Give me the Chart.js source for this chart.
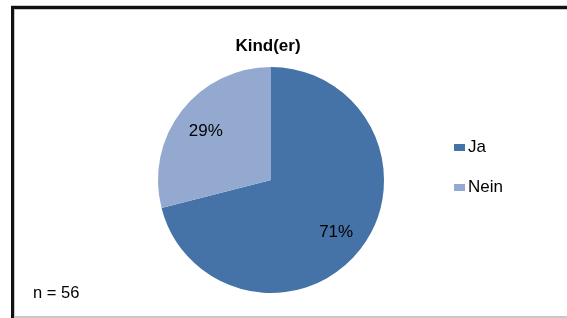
<!DOCTYPE html>
<html>
<head>
<meta charset="utf-8">
<script src="https://cdn.jsdelivr.net/npm/chart.js@4"></script>
<style>
    html, body { margin: 0; padding: 0; background: #ffffff; }
    #wrap { position: relative; width: 567px; height: 318px; }
</style>
</head>
<body>
<div id="wrap"><canvas id="pieChart" width="567" height="318"></canvas></div>
<script>
// Chart data
const categories = ['Ja', 'Nein'];
const shares = [71, 29];
const sliceColors = ['#4573A7', '#94A9CF'];
const chartTitle = 'Kind(er)';
const sampleNote = 'n = 56';

// Frame, title, note and legend drawn onto the canvas
const decorPlugin = {
    id: 'decor',
    beforeDraw(chart) {
        const ctx = chart.ctx;
        ctx.save();
        ctx.fillStyle = '#ffffff';
        ctx.fillRect(0, 0, chart.width, chart.height);
        // outer frame
        ctx.fillStyle = '#c8c8c8';
        ctx.fillRect(11, 5, chart.width - 11, 1);
        ctx.fillRect(14, 9, chart.width - 14, 1);
        ctx.fillRect(14, 9, 1, chart.height - 9);
        ctx.fillRect(11, 316, chart.width - 11, 2);
        ctx.fillStyle = '#111111';
        ctx.fillRect(11, 6, chart.width - 11, 3);
        ctx.fillRect(11, 6, 3, chart.height - 6);
        ctx.restore();
    },
    afterDraw(chart) {
        const ctx = chart.ctx;
        ctx.save();
        ctx.fillStyle = '#000000';
        ctx.textBaseline = 'middle';

        ctx.font = 'bold 17px "Liberation Sans", Arial, sans-serif';
        ctx.textAlign = 'center';
        ctx.fillText(chartTitle, 268, 46);

        ctx.font = '16.5px "Liberation Sans", Arial, sans-serif';
        ctx.textAlign = 'left';
        ctx.fillText(sampleNote, 33, 293);

        // slice labels
        const arcs = chart.getDatasetMeta(0).data;
        ctx.font = '17px "Liberation Sans", Arial, sans-serif';
        ctx.textAlign = 'center';
        arcs.forEach((arc, i) => {
            const mid = (arc.startAngle + arc.endAngle) / 2;
            const r = arc.outerRadius * 0.73;
            ctx.fillText(shares[i] + '%', arc.x + Math.cos(mid) * r, arc.y + Math.sin(mid) * r + 2);
        });

        // legend
        ctx.font = '17px "Liberation Sans", Arial, sans-serif';
        ctx.textAlign = 'left';
        categories.forEach((label, i) => {
            const y = 147 + i * 40;
            ctx.fillStyle = sliceColors[i];
            ctx.fillRect(454, y - 3, 11, 7);
            ctx.fillStyle = '#000000';
            ctx.fillText(label, 468, y);
        });
        ctx.restore();
    }
};

new Chart(document.getElementById('pieChart').getContext('2d'), {
    type: 'pie',
    data: {
        labels: categories,
        datasets: [{
            data: shares,
            backgroundColor: sliceColors,
            borderWidth: 0
        }]
    },
    options: {
        responsive: false,
        animation: false,
        layout: {
            padding: { left: 158, right: 183, top: 67, bottom: 25 }
        },
        plugins: {
            legend: { display: false },
            tooltip: { enabled: false },
            title: { display: false }
        }
    },
    plugins: [decorPlugin]
});
</script>
</body>
</html>
